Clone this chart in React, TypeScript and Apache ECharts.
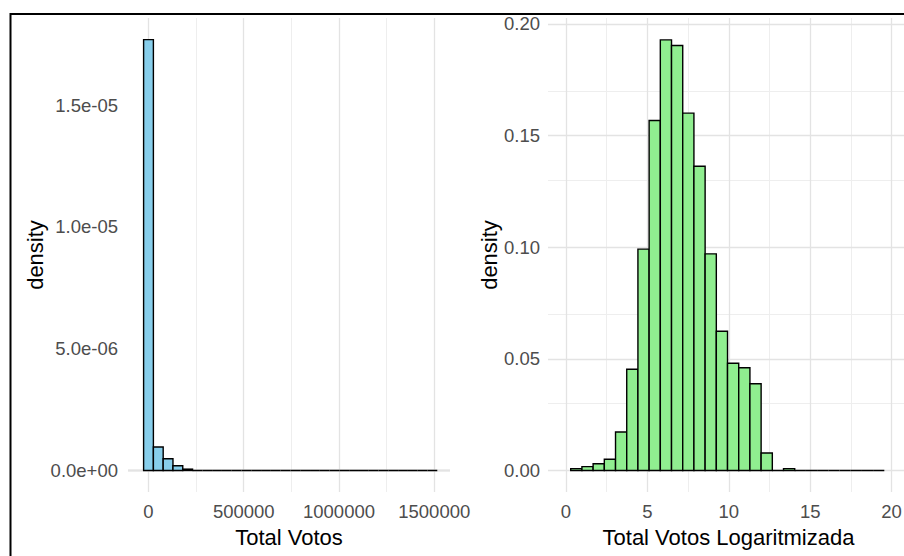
import React, { useEffect, useRef } from "react";
import * as echarts from "echarts";

// ---- Data ----
// Left histogram: Total Votos (30 bins)
const votosBinStart = -25700;
const votosBinWidth = 51390;
const votosDensity = [
  1.769e-5, 9.6e-7, 4.8e-7, 1.9e-7, 5.4e-8, 0, 0, 0, 0, 0,
  0, 0, 0, 0, 0, 0, 0, 0, 0, 0,
  0, 0, 0, 0, 0, 0, 0, 0, 0, 0,
];
const votosXTicks = [0, 500000, 1000000, 1500000];
const votosXMinor = [250000, 750000, 1250000];
const votosYTicks = [0, 5e-6, 1e-5, 1.5e-5];
const votosYMinor = [2.5e-6, 7.5e-6, 1.25e-5, 1.75e-5];

// Right histogram: Total Votos Logaritmizada (28 bins)
const logBinStart = 0.29;
const logBinWidth = 0.688;
const logDensity = [
  0.0008, 0.0017, 0.003, 0.005, 0.0172, 0.0453, 0.0991, 0.1567, 0.1928, 0.1903,
  0.16, 0.1362, 0.097, 0.0623, 0.048, 0.046, 0.0388, 0.0078, 0, 0.0008,
  0, 0, 0, 0, 0, 0, 0, 0,
];
const logXTicks = [0, 5, 10, 15, 20];
const logXMinor = [2.5, 7.5, 12.5, 17.5];
const logYTicks = [0, 0.05, 0.1, 0.15, 0.2];
const logYMinor = [0.025, 0.075, 0.125, 0.175];

const FONT = "'Liberation Sans', Arial, Helvetica, sans-serif";
const TICK_COLOR = "#4d4d4d";

function sci(v: number): string {
  if (v === 0) return "0.0e+00";
  const e = Math.floor(Math.log10(Math.abs(v)) + 1e-9);
  const m = v / Math.pow(10, e);
  const sign = e < 0 ? "-" : "+";
  return m.toFixed(1) + "e" + sign + String(Math.abs(e)).padStart(2, "0");
}

function onlyTicks(ticks: number[], fmt: (v: number) => string) {
  return (v: number) => {
    const hit = ticks.some((t) => Math.abs(t - v) <= Math.max(Math.abs(t), 1e-12) * 1e-6 + 1e-15);
    return hit ? fmt(v) : "";
  };
}

function bins(start: number, width: number, dens: number[]) {
  return dens.map((d, i) => [start + i * width, start + (i + 1) * width, d]);
}

function gridLines(xMajor: number[], xMinor: number[], yMajor: number[], yMinor: number[]) {
  const major = { color: "#e3e3e3", width: 1.3, type: "solid" };
  const minor = { color: "#eeeeee", width: 1, type: "solid" };
  return [
    ...xMinor.map((v) => ({ xAxis: v, lineStyle: minor })),
    ...yMinor.map((v) => ({ yAxis: v, lineStyle: minor })),
    ...xMajor.map((v) => ({ xAxis: v, lineStyle: major })),
    ...yMajor.map((v) => ({ yAxis: v, lineStyle: major })),
  ];
}

function renderHist(fill: string) {
  return (params: any, api: any) => {
    const x0 = api.value(0);
    const x1 = api.value(1);
    const y = api.value(2);
    const p0 = api.coord([x0, y]);
    const p1 = api.coord([x1, 0]);
    return {
      type: "rect",
      shape: { x: p0[0], y: p0[1], width: p1[0] - p0[0], height: p1[1] - p0[1] },
      style: { fill, stroke: "#000", lineWidth: 1.4 },
    };
  };
}

const axisCommon = {
  type: "value",
  splitLine: { show: false },
  axisLine: { show: false, onZero: false },
  axisTick: { show: false },
};

export default function App() {
  const ref = useRef<HTMLDivElement>(null);

  useEffect(() => {
    if (!ref.current) return;
    const chart = echarts.init(ref.current, undefined, { renderer: "svg" });
    const labelStyle = { color: TICK_COLOR, fontSize: 18.5, fontFamily: FONT };
    const nameStyle = { color: "#000", fontSize: 22, fontFamily: FONT };

    chart.setOption({
      animation: false,
      backgroundColor: "#ffffff",
      grid: [
        { left: 128, top: 18, width: 322, height: 474 },
        { left: 548, top: 18, width: 361, height: 474 },
      ],
      xAxis: [
        {
          ...axisCommon,
          gridIndex: 0,
          min: -107600,
          max: 1582700,
          minInterval: 500000,
          maxInterval: 500000,
          axisLabel: { ...labelStyle, margin: 10, formatter: onlyTicks(votosXTicks, (v) => String(v)) },
          name: "Total Votos",
          nameLocation: "middle",
          nameGap: 34,
          nameTextStyle: nameStyle,
        },
        {
          ...axisCommon,
          gridIndex: 1,
          min: -1.106,
          max: 21.07,
          minInterval: 5,
          maxInterval: 5,
          axisLabel: { ...labelStyle, margin: 10, formatter: onlyTicks(logXTicks, (v) => String(v)) },
          name: "Total Votos Logaritmizada",
          nameLocation: "middle",
          nameGap: 34,
          nameTextStyle: nameStyle,
        },
      ],
      yAxis: [
        {
          ...axisCommon,
          gridIndex: 0,
          min: -0.885e-6,
          max: 18.58e-6,
          minInterval: 5e-6,
          maxInterval: 5e-6,
          axisLabel: { ...labelStyle, margin: 10, formatter: onlyTicks(votosYTicks, sci) },
          name: "density",
          nameLocation: "middle",
          nameGap: 80,
          nameTextStyle: nameStyle,
        },
        {
          ...axisCommon,
          gridIndex: 1,
          min: -0.00965,
          max: 0.2026,
          minInterval: 0.05,
          maxInterval: 0.05,
          axisLabel: { ...labelStyle, margin: 8, formatter: onlyTicks(logYTicks, (v) => v.toFixed(2)) },
          name: "density",
          nameLocation: "middle",
          nameGap: 47,
          nameTextStyle: nameStyle,
        },
      ],
      series: [
        {
          type: "line",
          xAxisIndex: 0,
          yAxisIndex: 0,
          data: [],
          z: 1,
          markLine: {
            silent: true,
            symbol: ["none", "none"],
            label: { show: false },
            data: gridLines(votosXTicks, votosXMinor, votosYTicks, votosYMinor),
          },
        },
        {
          type: "line",
          xAxisIndex: 1,
          yAxisIndex: 1,
          data: [],
          z: 1,
          markLine: {
            silent: true,
            symbol: ["none", "none"],
            label: { show: false },
            data: gridLines(logXTicks, logXMinor, logYTicks, logYMinor),
          },
        },
        {
          type: "custom",
          xAxisIndex: 0,
          yAxisIndex: 0,
          z: 10,
          renderItem: renderHist("#87ceeb"),
          encode: { x: [0, 1], y: 2 },
          data: bins(votosBinStart, votosBinWidth, votosDensity),
        },
        {
          type: "custom",
          xAxisIndex: 1,
          yAxisIndex: 1,
          z: 10,
          renderItem: renderHist("#90ee90"),
          encode: { x: [0, 1], y: 2 },
          data: bins(logBinStart, logBinWidth, logDensity),
        },
      ],
      graphic: [
        {
          type: "rect",
          z: 100,
          silent: true,
          shape: { x: 10.5, y: 14, width: 1000, height: 1000 },
          style: { fill: "none", stroke: "#000", lineWidth: 2 },
        },
      ],
    });

    return () => {
      chart.dispose();
    };
  }, []);

  return (
    <div
      style={{
        position: "fixed",
        left: 0,
        top: 0,
        width: 904,
        height: 556,
        overflow: "hidden",
        background: "#fff",
      }}
    >
      <div ref={ref} style={{ width: 912, height: 556 }} />
    </div>
  );
}
